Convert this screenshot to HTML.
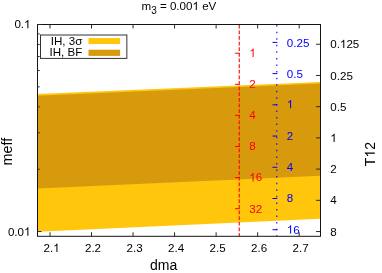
<!DOCTYPE html>
<html><head><meta charset="utf-8">
<style>
html,body{margin:0;padding:0;background:#fff;}
svg{display:block;will-change:transform;}
text{font-family:"Liberation Sans",sans-serif;font-size:11.6px;fill:#000;}
.r{fill:#ff0000;}
.b{fill:#0000ff;}
.ax{font-size:14.3px;}
.h{fill:none;}
.sub{font-size:10px;}
</style></head><body>
<svg width="382" height="273" viewBox="0 0 382 273">
<rect width="382" height="273" fill="#fff"/>
<polygon points="37.5,93.9 320.5,81.9 320.5,218.8 37.5,231.8" fill="#FFC60C"/>
<polygon points="37.5,95.8 320.5,83.4 320.5,175.8 37.5,188.5" fill="#D79A0D"/>
<line x1="239.25" y1="24.75" x2="239.25" y2="236.3" stroke="#ff0000" stroke-width="1.1" stroke-dasharray="3.75 1.88"/>
<g stroke="#ff0000" stroke-width="1"><line x1="235" x2="239.55" y1="53.20" y2="53.20"/><line x1="235" x2="239.55" y1="84.30" y2="84.30"/><line x1="235" x2="239.55" y1="115.40" y2="115.40"/><line x1="235" x2="239.55" y1="146.50" y2="146.50"/><line x1="235" x2="239.55" y1="177.60" y2="177.60"/><line x1="235" x2="239.55" y1="208.70" y2="208.70"/></g>
<line x1="276.8" y1="25.1" x2="276.8" y2="236.3" stroke="#0000ff" stroke-width="1.1" stroke-dasharray="1.5 5.066"/>
<g stroke="#0000ff" stroke-width="1"><line x1="272.5" x2="277.3" y1="42.40" y2="42.40"/><line x1="272.5" x2="277.3" y1="73.62" y2="73.62"/><line x1="272.5" x2="277.3" y1="104.84" y2="104.84"/><line x1="272.5" x2="277.3" y1="136.06" y2="136.06"/><line x1="272.5" x2="277.3" y1="167.28" y2="167.28"/><line x1="272.5" x2="277.3" y1="198.50" y2="198.50"/><line x1="272.5" x2="277.3" y1="229.72" y2="229.72"/></g>
<rect x="37.5" y="24.5" width="283.0" height="211.8" fill="none" stroke="#141414" stroke-width="1"/>
<path d="M50.0,236.3v-4M50.0,24.5v4M91.53,236.3v-4M91.53,24.5v4M133.06,236.3v-4M133.06,24.5v4M174.59,236.3v-4M174.59,24.5v4M216.12,236.3v-4M216.12,24.5v4M257.65,236.3v-4M257.65,24.5v4M299.18,236.3v-4M299.18,24.5v4M37.5,33.97h2.2M37.5,44.57h2.2M37.5,56.57h2.2M37.5,70.43h2.2M37.5,86.83h2.2M37.5,106.89h2.2M37.5,132.76h2.2M37.5,169.22h2.2M37.5,24.5h4M37.5,231.55h4M320.5,44.25h-4.4M320.5,75.47h-4.4M320.5,106.68h-4.4M320.5,137.90h-4.4M320.5,169.12h-4.4M320.5,200.33h-4.4M320.5,231.55h-4.4" stroke="#2a2a2a" stroke-width="1" fill="none"/>
<rect x="40.5" y="35" width="86.35" height="23.4" fill="#fff" stroke="#333" stroke-width="1"/>
<rect x="88.5" y="38.1" width="31.6" height="5.9" fill="#FFC60C"/>
<rect x="88.5" y="49.7" width="31.6" height="6.2" fill="#D79A0D"/>
<text x="82.3" y="44.5" text-anchor="end">IH, 3σ</text>
<text x="82.3" y="56" text-anchor="end">IH, BF</text>
<text id="t0" x="178.9" y="10" text-anchor="middle">m<tspan dy="3.5" class="sub">3</tspan><tspan dy="-3.5"> = 0.00<tspan class="h">1</tspan> eV</tspan></text><path transform="translate(192.48,10.00) scale(0.00566,-0.00566)" d="M763 0H583V1147Q518 1085 412.5 1023T223 930V1104Q374 1175 487 1276T647 1472H763Z" fill="rgb(0, 0, 0)"/>
<text id="t1" x="30.5" y="28.3" text-anchor="end">0.<tspan class="h">1</tspan></text><path transform="translate(24.05,28.30) scale(0.00566,-0.00566)" d="M763 0H583V1147Q518 1085 412.5 1023T223 930V1104Q374 1175 487 1276T647 1472H763Z" fill="rgb(0, 0, 0)"/>
<text id="t2" x="30.5" y="235.65" text-anchor="end">0.0<tspan class="h">1</tspan></text><path transform="translate(24.05,235.65) scale(0.00566,-0.00566)" d="M763 0H583V1147Q518 1085 412.5 1023T223 930V1104Q374 1175 487 1276T647 1472H763Z" fill="rgb(0, 0, 0)"/>
<g text-anchor="middle"><text id="t3" x="51.5" y="251.9">2.<tspan class="h">1</tspan></text><path transform="translate(53.11,251.90) scale(0.00566,-0.00566)" d="M763 0H583V1147Q518 1085 412.5 1023T223 930V1104Q374 1175 487 1276T647 1472H763Z" fill="rgb(0, 0, 0)"/><text x="93.03" y="251.9">2.2</text><text x="134.56" y="251.9">2.3</text><text x="176.09" y="251.9">2.4</text><text x="217.62" y="251.9">2.5</text><text x="259.15" y="251.9">2.6</text><text x="300.68" y="251.9">2.7</text></g>
<text x="150" y="269.7" class="ax" style="font-size:14px">dma</text>
<text transform="translate(12.2,165.4) rotate(-90)" class="ax">meff</text>
<text id="t4" transform="translate(374.8,166.2) rotate(-90)" class="ax" style="font-size:14px">T<tspan class="h">1</tspan>2</text><g transform="translate(374.8,166.2) rotate(-90)"><path transform="translate(8.56,0.00) scale(0.00684,-0.00684)" d="M763 0H583V1147Q518 1085 412.5 1023T223 930V1104Q374 1175 487 1276T647 1472H763Z" fill="rgb(0, 0, 0)"/></g>
<text id="t5" x="330.3" y="48">0.<tspan class="h">1</tspan>25</text><path transform="translate(339.97,48.00) scale(0.00566,-0.00566)" d="M763 0H583V1147Q518 1085 412.5 1023T223 930V1104Q374 1175 487 1276T647 1472H763Z" fill="rgb(0, 0, 0)"/>
<text x="330.3" y="79.5">0.25</text>
<text x="330.3" y="111">0.5</text>
<text id="t6" x="330.3" y="142"><tspan class="h">1</tspan></text><path transform="translate(330.30,142.00) scale(0.00566,-0.00566)" d="M763 0H583V1147Q518 1085 412.5 1023T223 930V1104Q374 1175 487 1276T647 1472H763Z" fill="rgb(0, 0, 0)"/>
<text x="330.3" y="173">2</text>
<text x="330.3" y="204">4</text>
<text x="330.3" y="236">8</text>
<text id="t7" class="r" x="249.3" y="56.90"><tspan class="h">1</tspan></text><path transform="translate(249.30,56.90) scale(0.00566,-0.00566)" d="M763 0H583V1147Q518 1085 412.5 1023T223 930V1104Q374 1175 487 1276T647 1472H763Z" fill="rgb(255, 0, 0)"/>
<text class="r" x="249.3" y="88.03">2</text>
<text class="r" x="249.3" y="119.16">4</text>
<text class="r" x="249.3" y="150.29">8</text>
<text id="t8" class="r" x="249.3" y="181.42"><tspan class="h">1</tspan>6</text><path transform="translate(249.30,181.42) scale(0.00566,-0.00566)" d="M763 0H583V1147Q518 1085 412.5 1023T223 930V1104Q374 1175 487 1276T647 1472H763Z" fill="rgb(255, 0, 0)"/>
<text class="r" x="249.3" y="212.55">32</text>
<text class="b" x="286.8" y="46.5">0.25</text>
<text class="b" x="286.8" y="77.6">0.5</text>
<text id="t9" class="b" x="286.8" y="108.3"><tspan class="h">1</tspan></text><path transform="translate(286.80,108.30) scale(0.00566,-0.00566)" d="M763 0H583V1147Q518 1085 412.5 1023T223 930V1104Q374 1175 487 1276T647 1472H763Z" fill="rgb(0, 0, 255)"/>
<text class="b" x="286.8" y="140.2">2</text>
<text class="b" x="286.8" y="170.7">4</text>
<text class="b" x="286.8" y="202.4">8</text>
<text id="t10" class="b" x="286.8" y="233.6"><tspan class="h">1</tspan>6</text><path transform="translate(286.80,233.60) scale(0.00566,-0.00566)" d="M763 0H583V1147Q518 1085 412.5 1023T223 930V1104Q374 1175 487 1276T647 1472H763Z" fill="rgb(0, 0, 255)"/>
</svg>
</body></html>
